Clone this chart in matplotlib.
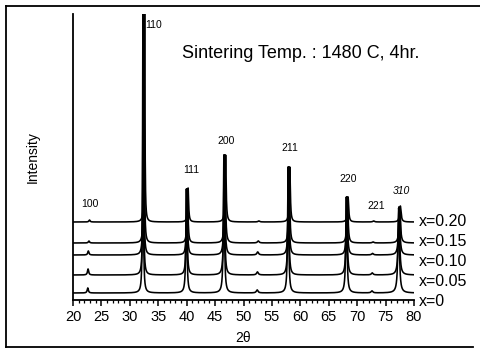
import numpy as np
import matplotlib
matplotlib.use("Agg")
import matplotlib.pyplot as plt
from matplotlib.ticker import MultipleLocator
from matplotlib.lines import Line2D

plt.rcParams['font.family'] = ['Liberation Sans', 'DejaVu Sans']

# ---- data ----
series_labels = ["x=0", "x=0.05", "x=0.10", "x=0.15", "x=0.20"]
baselines = [7, 25, 45, 57, 78]                 # vertical offset of each trace
shifts = [0.0, 0.05, 0.10, 0.20, 0.30]          # small peak shift per series (deg)

peak_labels = ["100", "110", "111", "200", "211", "220", "221", "310", ""]
peak_pos = [22.6, 32.3, 39.95, 46.55, 57.85, 68.1, 72.6, 77.3, 52.4]
peak_width = [0.25, 0.14, 0.22, 0.22, 0.22, 0.25, 0.35, 0.30, 0.35]
# peak heights above each trace's own baseline
heights = {
    "x=0":    [5, 285, 104, 138, 126, 96, 2, 85, 3],
    "x=0.05": [6, 268, 86, 120, 108, 78, 2, 68, 3],
    "x=0.10": [4, 248, 66, 100, 88, 58, 1.5, 48, 3],
    "x=0.15": [2, 236, 54, 88, 76, 46, 1, 35, 2],
    "x=0.20": [2, 215, 34, 67, 55, 25, 1, 16, 1],
}
# peak label positions (2theta, height)
label_pos = [(23.0, 96), (34.2, 275), (40.8, 130), (47.0, 159), (58.2, 152), (68.5, 121), (73.3, 94), (77.7, 109)]

theta = np.linspace(20, 80, 6001)

fig = plt.figure(figsize=(4.81, 3.56), dpi=100)
ax = fig.add_axes([73/481, 56/356, 341/481, 286/356])

for i, name in enumerate(series_labels):
    y = np.full_like(theta, float(baselines[i]))
    for p, w, h in zip(peak_pos, peak_width, heights[name]):
        hw = w / 2.0
        y += h * hw**2 / ((theta - (p + shifts[i]))**2 + hw**2)
    ax.plot(theta, y, color='black', lw=1.15, solid_joinstyle='round')

ax.set_xlim(20, 80)
ax.set_ylim(0, 286)
ax.spines['top'].set_visible(False)
ax.spines['right'].set_visible(False)
ax.spines['left'].set_linewidth(1.3)
ax.spines['bottom'].set_linewidth(1.3)
ax.set_yticks([])
ax.xaxis.set_major_locator(MultipleLocator(5))
ax.xaxis.set_minor_locator(MultipleLocator(1))
ax.tick_params(axis='x', which='major', direction='out', length=4, width=1.1, labelsize=10.5, pad=3)
ax.tick_params(axis='x', which='minor', direction='out', length=2.5, width=0.9)
ax.set_xlabel("2θ", fontsize=10, labelpad=5)
ax.set_ylabel("Intensity", fontsize=10, labelpad=24)

for lab, (px, py) in zip(peak_labels, label_pos):
    ax.text(px, py, lab, fontsize=7.5, ha='center', va='center',
            style='italic' if lab == "310" else 'normal')

ax.text(0.32, 0.862, "Sintering Temp. : 1480 C, 4hr.", transform=ax.transAxes,
        fontsize=13, ha='left', va='center')

label_y = [-1, 18, 38, 58, 78]
for name, ly in zip(series_labels, label_y):
    ax.annotate(name, xy=(80, ly), xycoords='data', xytext=(3.5, 0), textcoords='offset points',
                fontsize=11.5, ha='left', va='center', annotation_clip=False)

# outer frame (left, top, bottom)
fig.add_artist(Line2D([6/481, 6/481], [1 - 347/356, 1 - 6/356], transform=fig.transFigure, color='black', lw=1.3))
fig.add_artist(Line2D([6/481, 1.0], [1 - 6/356, 1 - 6/356], transform=fig.transFigure, color='black', lw=1.3))
fig.add_artist(Line2D([6/481, 473/481], [1 - 347/356, 1 - 347/356], transform=fig.transFigure, color='black', lw=1.3))

fig.savefig("out.png", dpi=100)
